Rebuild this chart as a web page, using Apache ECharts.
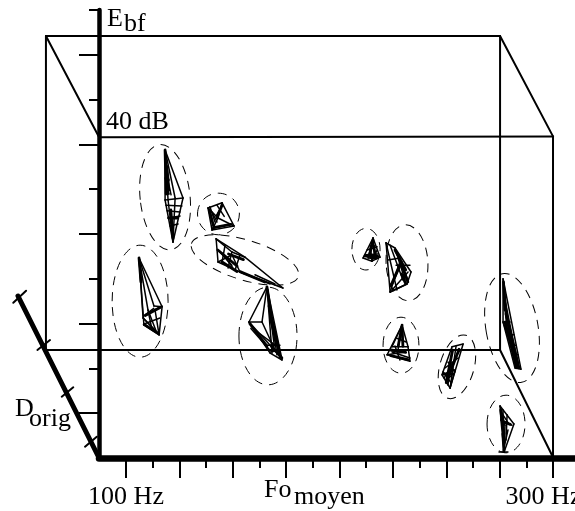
<!DOCTYPE html>
<html><head><meta charset="utf-8">
<style>html,body{margin:0;padding:0;background:#fff;overflow:hidden}#c{width:575px;height:511px}</style>
<script src="https://cdn.jsdelivr.net/npm/echarts@6/dist/echarts.min.js"></script>
</head><body><div id="c"></div>
<script>
// Axis ticks (Hz, dB)
const hzMajor = [100,125,150,175,200,225,250,275,300];
const hzMinor = [112.5,137.5,162.5,187.5,212.5,237.5,262.5,287.5];
const hzLabels = [100,300];
const dbLong = [5.6,16.8,28,39.2,50.4];
const dbShort = [11.2,22.4,33.6,44.8,56];

// 3D box edges (Hz, dB)
const boxEdges = [
 [[62.5,52.75],[275.2,52.75],[275.2,13.5],[62.5,13.5],[62.5,52.75]],
 [[62.5,52.75],[87.4,40.1],[300,40.2],[300,0.1]],
 [[275.2,52.75],[300,40.2]],
 [[275.2,13.5],[300,0.1]],
 [[62.5,13.5],[87.4,0.1]]
];
const depthAxis = [[[49.4,20.25],[87.4,0]]];
const depthTicks = [
 [[47.2,19.41],[53.2,20.91]],
 [[58.5,13.5],[64.4,14.75]],
 [[69.9,7.66],[75.3,8.84]],
 [[80.8,1.41],[86.3,2.66]]
];

// Dashed cluster outlines: centre Hz, centre dB, half width Hz, half height dB, tilt degrees
const outlines = [
 [118.3,32.6,11.7,6.6,6],
 [143.3,30.5,9.8,2.6,0],
 [155.7,24.75,26.2,2.5,-17],
 [106.6,19.6,13.1,7,0],
 [166.5,15.25,13.6,6.1,0],
 [212.4,26.1,6.6,2.6,0],
 [231.6,24.4,9.8,4.75,3],
 [228.8,14.1,8.4,3.5,0],
 [255,11.4,8,4.1,-16],
 [280.8,16.25,12.2,6.9,10],
 [278,4.25,8.9,3.6,0]
];

// Wireframe clusters (Hz, dB)
const wire1 = [
 [[118.3,38.5],[118.3,32.25],[122,27],[126.7,32.5],[118.3,38.5]],
 [[118.3,38.5],[119.7,32.25],[122,27]],
 [[118.3,38.5],[123,32.5],[122,27]],
 [[118.3,37.9],[120.1,34.75],[118.7,33.5]],
 [[118.7,36],[121.1,32.9]],
 [[118.3,35],[120.1,33],[118.7,33]],
 [[118.3,32.25],[126.7,32.5]],
 [[118.7,31.6],[126.2,31.5]],
 [[119.2,30.9],[125.3,30.75]],
 [[119.7,30],[125.3,30.25]],
 [[120.6,29],[124.4,29.25]]
];
const wire2 = [
 [[145,31.9],[138.4,31.25],[140.3,28.5],[150.6,29],[145,31.9]],
 [[138.4,31.25],[143.1,30],[150.6,29]],
 [[145,31.9],[143.1,30],[140.3,28.5]],
 [[139.3,31.4],[141.7,29.5]],
 [[145,31.6],[142.2,30.25]],
 [[141.2,28.75],[149.6,29.25]],
 [[140.3,30.75],[142.6,29.5]],
 [[142.6,31.6],[146,30.2]]
];
const wire3 = [
 [[142.2,27.4],[143.1,24.5],[153.4,23.25],[173.5,21.25],[155.7,25.1],[142.2,27.4]],
 [[142.2,27.4],[149.6,25.75],[155.7,25.1]],
 [[143.1,26],[149.6,24.1]],
 [[146.4,26.6],[145,24.5]],
 [[149.6,25.75],[147.8,23.75]],
 [[153.4,25.4],[151.1,23.5]],
 [[143.1,24.5],[149.6,25.4],[153.4,23.25]],
 [[153.4,23.25],[167.5,21.75]],
 [[160.4,22.9],[169.8,21.75]],
 [[145,25.6],[150,23.8]]
];
const wire4 = [
 [[106.1,25],[116.9,18.9],[115.5,15.4],[108.4,16.6],[106.1,25]],
 [[106.1,25],[108,17.5],[115.5,15.4]],
 [[106.1,25],[110.3,18.5],[114.5,15.6]],
 [[106.1,25],[113.1,19],[116.9,18.9]],
 [[108.9,17.9],[116.9,19]],
 [[109.4,18],[113,18.7]],
 [[108.4,16.75],[115.9,17.5]],
 [[110.3,18.5],[112.2,16]],
 [[113.6,18.5],[115.5,15.4]],
 [[108,17.5],[113.6,16]]
];
const wire5 = [
 [[166,21.4],[157.6,17],[167.5,13.1],[173.1,12.25],[166,21.4]],
 [[166,21.4],[163.7,17],[157.6,17]],
 [[163.7,17],[169.8,13.5]],
 [[166,21.4],[168.4,13.1]],
 [[166,21.4],[170.7,12.9]],
 [[166.5,21],[167.5,17.25],[172.1,12.5]],
 [[157.6,17],[167.5,14.1],[173.1,12.5]],
 [[160.4,16],[169.8,14.1]],
 [[165.1,14.1],[172.1,14.1]],
 [[167.5,13.25],[173.1,13.5]],
 [[166,21.4],[168.4,17.25]],
 [[167,19],[169.5,14]],
 [[158.5,16.2],[167,13.6]]
];
const wire6 = [
 [[215.7,27.5],[211,25],[215.2,24.6],[219,25.1],[215.7,27.5]],
 [[215.7,27.5],[213.4,25],[217.1,24.9]],
 [[214.3,26.6],[215.2,24.6],[217.6,26]],
 [[211.9,25.4],[218,25.5]],
 [[212.9,26],[217.6,26.4]],
 [[215.7,27.5],[216.5,25]],
 [[211.5,25.2],[218,25]]
];
const wire7 = [
 [[221.8,26.9],[223.7,20.75],[231.6,21.75],[233.5,23.25],[226,26.25],[221.8,26.9]],
 [[221.8,26.9],[226.9,21]],
 [[223.7,26.6],[229.7,22.25]],
 [[226,26],[232.1,22.25]],
 [[222.7,24.75],[228.3,25]],
 [[224.6,21],[232.1,23.25]],
 [[226.5,24.1],[233,24.1]],
 [[227.4,25],[230.7,22.25]],
 [[229.3,24.5],[224.6,21.6]],
 [[223.7,20.75],[231.6,21.75]],
 [[223.7,20.75],[228.3,24.5]]
];
const wire8 = [
 [[229.3,16.6],[222.3,12.9],[233,12.1],[232.1,13.9],[229.3,16.6]],
 [[229.3,16.6],[224.6,13.9],[232.1,13.9]],
 [[229.3,16.6],[227.4,13.5]],
 [[229.3,16.6],[229.7,13.9]],
 [[222.3,12.9],[230.7,13.25]],
 [[224.6,13.25],[233,12.5]],
 [[226,14],[228.3,12.25]],
 [[226.5,15],[231.2,14.5]]
];
const wire9 = [
 [[252.7,13.9],[257.9,14.25],[251.8,8.75],[248,10.4],[252.7,13.9]],
 [[254.6,14],[251.8,8.75]],
 [[256.4,13.5],[249,10]],
 [[252.7,13.5],[250.8,9.1]],
 [[249.4,11.25],[255.5,12.5]],
 [[248.5,10.4],[254.1,11],[251.8,8.75]],
 [[250.8,12],[254.1,10.75]],
 [[248.5,10.8],[252,9.5]],
 [[250,9.8],[252.5,10.3]]
];
const wire10 = [
 [[276.6,22.4],[276.6,17],[282.2,11.25],[285,11.1],[276.6,22.4]],
 [[277.1,21.6],[278.9,16.6],[283.1,11.25]],
 [[277.5,19.75],[280.8,15.4],[284.1,11.25]],
 [[278,16.6],[279.9,17]],
 [[276.6,17],[280.3,14.1]],
 [[278.5,15.4],[281.7,15.4]],
 [[279.9,14.1],[282.7,14.1]],
 [[280.8,12.9],[283.6,12.9]],
 [[276.9,20],[278.5,16.2],[282.7,11.2]],
 [[278,18],[280,15],[284,11.2]]
];
const wire11 = [
 [[275.2,6.5],[281.7,4.25],[277.1,0.75],[275.6,4.75],[275.2,6.5]],
 [[275.2,6.5],[277.5,4.1],[277.1,0.75]],
 [[275.6,4.75],[280.8,4.1]],
 [[276.6,6],[276.6,2.25]],
 [[276.6,0.75],[278.9,3.5]],
 [[278.5,5.4],[278,2.25]],
 [[274.7,0.75],[278.9,0.75]],
 [[276,5.6],[279.5,4.2]]
];
// Densest strands of the clusters, where the wires merge to solid black
const denseStrands = [
 [[118.3,38.5],[118.8,33]], [[119,36.5],[120,33.5]], [[121,31],[122,27.5]], [[120,30],[124,30]],
 [[139,31],[141,29]], [[145,31.6],[142.5,30]], [[141,28.8],[149,29.2]],
 [[143,26],[152,24]], [[145,24.5],[152,23.3]], [[148,25.5],[155,24.8]], [[153.4,23.3],[165,22]],
 [[109,17.8],[116,18.8]], [[108.5,16.7],[115,15.6]], [[106.1,25],[107,22]],
 [[166,21.4],[168,18]], [[167,19],[172,13]], [[158,16.8],[166,14]], [[168,14],[173,12.5]],
 [[215.7,27.2],[214,25.3]], [[212,25.3],[218,25.2]], [[216,26.5],[217,25]],
 [[226,26],[231,23.5]], [[228,25],[232,22]], [[229,23],[231,21.8]], [[224,21.5],[228,24]],
 [[229.3,16.6],[227.5,14]], [[229.3,16.3],[229.7,14]], [[224,13.5],[231,13.2]], [[224,12.8],[232,12.3]],
 [[253,13.5],[250,9.5]], [[256,13.6],[250,9.4]], [[249,10.5],[253,10.5]],
 [[276.8,22],[277.5,18.5]], [[278,18],[284,11.3]], [[277.5,17],[283,11.3]],
 [[275.5,6],[277,3]], [[276.5,3],[277,1]], [[277,4.5],[280,4.2]]
];

const wires = [wire1,wire2,wire3,wire4,wire5,wire6,wire7,wire8,wire9,wire10,wire11];
const serif = '"Liberation Serif","Times New Roman",serif';
const labelSize = 26;

// Break every path into [x1,y1,x2,y2] rows for a custom series (no clip to the grid).
function segments(paths){
  const rows = [];
  paths.forEach(p => { for (let i = 1; i < p.length; i++) rows.push([p[i-1][0],p[i-1][1],p[i][0],p[i][1]]); });
  return rows;
}
function polyline(name, paths, width){
  return {name, type:'custom', coordinateSystem:'cartesian2d', xAxisIndex:0, yAxisIndex:0,
    data:segments(paths), clip:false, silent:true, animation:false,
    encode:{x:[0,2], y:[1,3]},
    renderItem:(params, api) => {
      const a = api.coord([api.value(0), api.value(1)]);
      const b = api.coord([api.value(2), api.value(3)]);
      return {type:'line', shape:{x1:a[0], y1:a[1], x2:b[0], y2:b[1]},
        style:{stroke:'#000', lineWidth:width, lineCap:'round', fill:null}};
    }};
}
function valueAxisX(custom, len, showLine){
  return {type:'value', position:'bottom', min:87.35, max:310.3, splitLine:{show:false},
    axisLine:{show:showLine, onZero:false, lineStyle:{color:'#000', width:6.5}},
    axisTick:{show:true, customValues:custom, length:len, lineStyle:{color:'#000', width:2}},
    axisLabel:{show:false}};
}
function valueAxisY(custom, len, showLine){
  return {type:'value', position:'left', min:0, max:56, splitLine:{show:false},
    axisLine:{show:showLine, onZero:false, lineStyle:{color:'#000', width:4.5}},
    axisTick:{show:true, customValues:custom, length:len, lineStyle:{color:'#000', width:2}},
    axisLabel:{show:false}};
}
const xMain = valueAxisX(hzMajor, 20, true);
xMain.axisLabel = {show:true, customValues:hzLabels, margin:26, hideOverlap:false, color:'#000',
  fontFamily:serif, fontSize:labelSize,
  formatter:v => v === 300 ? '{r|300 Hz}' : v + ' Hz',
  rich:{r:{fontFamily:serif, fontSize:labelSize, color:'#000', padding:[0,19,0,0]}}};

const text = (t,x,y) => ({type:'text', x, y, silent:true,
  style:{text:t, fill:'#000', font:labelSize+'px '+serif}});

const chart = echarts.init(document.getElementById('c'), null, {renderer:'canvas'});
chart.setOption({
  animation:false,
  backgroundColor:'#fff',
  grid:{left:99, top:10, width:476, height:448, containLabel:false, outerBoundsMode:'none'},
  xAxis:[xMain, valueAxisX(hzMinor, 10, false)],
  yAxis:[valueAxisY(dbShort, 10, true), valueAxisY(dbLong, 20, false)],
  series:[
    polyline('box', boxEdges, 2),
    polyline('depth', depthAxis, 5),
    polyline('depthTicks', depthTicks, 2),
    ...wires.map((w,i) => polyline('cluster'+(i+1), w, 1.5)),
    polyline('dense', denseStrands, 2.8),
    {name:'outlines', type:'custom', coordinateSystem:'cartesian2d', xAxisIndex:0, yAxisIndex:0,
     data:outlines, silent:true, animation:false,
     encode:{x:0, y:1},
     renderItem:(params, api) => {
       const p = api.coord([api.value(0), api.value(1)]);
       const s = api.size([api.value(2), api.value(3)]);
       return {type:'ellipse', x:p[0], y:p[1], rotation:api.value(4)*Math.PI/180,
         shape:{cx:0, cy:0, rx:s[0], ry:s[1]},
         style:{fill:null, stroke:'#000', lineWidth:1, lineDash:[9,7]}};
     }}
  ],
  graphic:[
    text('E',107,6), text('bf',124,11),
    text('40 dB',106,109),
    text('D',15,396), text('orig',29,406),
    text('Fo',264,477), text('moyen',294,484)
  ]
});
</script></body></html>
